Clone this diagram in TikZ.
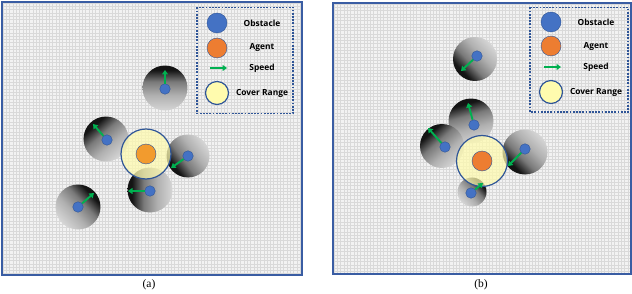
\documentclass[tikz,border=0pt]{standalone}
\usepackage{fontspec}
\setmainfont{Liberation Serif}
\newfontfamily\legfont{Open Sans}
\usetikzlibrary{arrows.meta,fadings}
\definecolor{frameblue}{HTML}{3A5DA3}
\definecolor{dotblue}{HTML}{2F5597}
\definecolor{obsblue}{HTML}{4472C4}
\definecolor{obsedge}{HTML}{2F5597}
\definecolor{agentor}{HTML}{ED7D31}
\definecolor{agentorA}{HTML}{F29B2E}
\definecolor{covfill}{HTML}{FFFBAE}
\definecolor{spgreen}{HTML}{00B050}
\definecolor{bggray}{HTML}{F2F2F2}
\definecolor{gridgray}{HTML}{D9D9D9}
\definecolor{shA}{HTML}{D6D6D6}
\definecolor{shB}{HTML}{B0B0B0}
\definecolor{shC}{HTML}{7A7A7A}
\definecolor{shD}{HTML}{141414}
\pgfdeclareverticalshading{obsshade}{100bp}{color(0bp)=(shA); color(25bp)=(shA); color(42bp)=(shB); color(57bp)=(shC); color(70bp)=(shD); color(100bp)=(shD)}
\pgfdeclareradialshading{softedgeshade}{\pgfpointorigin}{color(0bp)=(pgftransparent!0); color(26bp)=(pgftransparent!0); color(40bp)=(pgftransparent!30); color(50bp)=(pgftransparent!100)}
\pgfdeclarefading{softedge}{\pgfuseshading{softedgeshade}}
\tikzset{
  panelframe/.style={draw=frameblue, line width=2.2pt, fill=bggray},
  gridlines/.style={draw=gridgray, line width=0.35pt},
  legbox/.style={draw=dotblue, line width=1.8pt, dash pattern=on 1.8pt off 1.4pt},
  obs/.style={circle, fill=obsblue, draw=obsedge, line width=0.4pt, minimum size=10.5pt, inner sep=0pt},
  legobs/.style={circle, fill=obsblue, draw=obsedge, line width=0.4pt, minimum size=20pt, inner sep=0pt},
  agentA/.style={circle, fill=agentorA, draw=obsedge, line width=0.4pt, minimum size=20pt, inner sep=0pt},
  agentB/.style={circle, fill=agentor, draw=obsedge, line width=0.4pt, minimum size=20pt, inner sep=0pt},
  legagent/.style={circle, fill=agentor, draw=obsedge, line width=0.4pt, minimum size=20pt, inner sep=0pt},
  cover/.style={circle, fill=covfill, fill opacity=0.72, draw=dotblue, line width=1.2pt, inner sep=0pt},
  legcover/.style={circle, fill=covfill, draw=dotblue, line width=1.2pt, minimum size=23pt, inner sep=0pt},
  speed/.style={draw=spgreen, line width=1.9pt, -{Triangle[length=4.5pt,width=6pt]}},
  legtext/.style={font=\legfont\bfseries\fontsize{8.4}{9}\selectfont, inner sep=0pt},
  capt/.style={font=\fontsize{11.5}{13}\selectfont, inner sep=0pt},
  shadowc/.style={shading=obsshade, path fading=softedge}
}
\newcommand{\obsshadow}[4]{% x,y,r,angle
  \shade[shadowc, shading angle=#4-90] (#1,#2) circle[radius=#3pt];}
\begin{document}
\begin{tikzpicture}[x=1pt,y=-1pt]
\useasboundingbox (0,0) rectangle (632,294);
% ---------- panel (a)
\path[panelframe] (2,2) rectangle (302,275);
\begin{scope}
\clip (3,3) rectangle (301,274);
\foreach \i in {0,...,91} {\draw[gridlines] (3+3.3*\i,3) -- (3+3.3*\i,274);}
\foreach \j in {0,...,83} {\draw[gridlines] (3,3+3.3*\j) -- (301,3+3.3*\j);}
\end{scope}
\draw[frameblue, line width=2.2pt] (2,2) rectangle (302,275);
\obsshadow{165}{88}{22.5}{90}
\obsshadow{106}{139}{22.5}{131}
\obsshadow{188}{156}{21.5}{217}
\obsshadow{150}{190}{22.5}{180}
\obsshadow{78}{207}{22.5}{43}
\node[cover, minimum size=50pt] (cA) at (146,154) {};
\node[agentA] (agA) at (146,154) {};
\node[obs] (a1) at (165,89) {};
\node[obs] (a2) at (107,140) {};
\node[obs] (a3) at (188,156) {};
\node[obs] (a4) at (150,191) {};
\node[obs] (a5) at (78,207) {};
\coordinate (ta1) at (165,70);
\coordinate (ta2) at (93,124);
\coordinate (ta3) at (171,168);
\coordinate (ta4) at (128,191);
\coordinate (ta5) at (94,193);
\foreach \k in {1,...,5} {\draw[speed] (a\k) -- (ta\k);}
% legend (a)
\draw[legbox] (197,7.5) rectangle (293,113.5);
\node[legobs] (lAo) at (217,23) {};
\node[legagent] (lAa) at (217,48) {};
\coordinate (lAs1) at (210,68);
\coordinate (lAs2) at (227,68);
\draw[speed] (lAs1) -- (lAs2);
\node[legcover] (lAc) at (217,93) {};
\node[legtext] (tAo) at (262,23) {Obstacle};
\node[legtext] (tAa) at (262,47.5) {Agent};
\node[legtext] (tAs) at (262,68) {Speed};
\node[legtext] (tAc) at (262,93) {Cover Range};
\node[capt] (capA) at (149,285) {(a)};
% ---------- panel (b)
\path[panelframe] (333,3) rectangle (631,274);
\begin{scope}
\clip (334,4) rectangle (630,273);
\foreach \i in {0,...,90} {\draw[gridlines] (334+3.3*\i,4) -- (334+3.3*\i,273);}
\foreach \j in {0,...,82} {\draw[gridlines] (334,4+3.3*\j) -- (630,4+3.3*\j);}
\end{scope}
\draw[frameblue, line width=2.2pt] (333,3) rectangle (631,274);
\obsshadow{475}{59}{22}{223}
\obsshadow{471}{121}{22.5}{106}
\obsshadow{442}{146}{22}{132}
\obsshadow{525}{152}{22.5}{225}
\obsshadow{472}{192}{14.5}{42}
\node[cover, minimum size=51pt] (cB) at (482,161) {};
\node[agentB] (agB) at (482,161) {};
\node[obs] (b1) at (477,56) {};
\node[obs] (b2) at (474,125) {};
\node[obs] (b3) at (445,147) {};
\node[obs] (b4) at (525,149) {};
\node[obs] (b5) at (471,193) {};
\coordinate (tb1) at (461,71);
\coordinate (tb2) at (468,103);
\coordinate (tb3) at (428,128);
\coordinate (tb4) at (508,166);
\coordinate (tb5) at (483,183);
\foreach \k in {1,...,5} {\draw[speed] (b\k) -- (tb\k);}
% legend (b)
\draw[legbox] (530,7.5) rectangle (628,112);
\node[legobs] (lBo) at (551,22) {};
\node[legagent] (lBa) at (551,46) {};
\coordinate (lBs1) at (544,67);
\coordinate (lBs2) at (561,67);
\draw[speed] (lBs1) -- (lBs2);
\node[legcover] (lBc) at (551,92) {};
\node[legtext] (tBo) at (596,22) {Obstacle};
\node[legtext] (tBa) at (596,46) {Agent};
\node[legtext] (tBs) at (596,67) {Speed};
\node[legtext] (tBc) at (596,92) {Cover Range};
\node[capt] (capB) at (481,285) {(b)};
\end{tikzpicture}
\end{document}
